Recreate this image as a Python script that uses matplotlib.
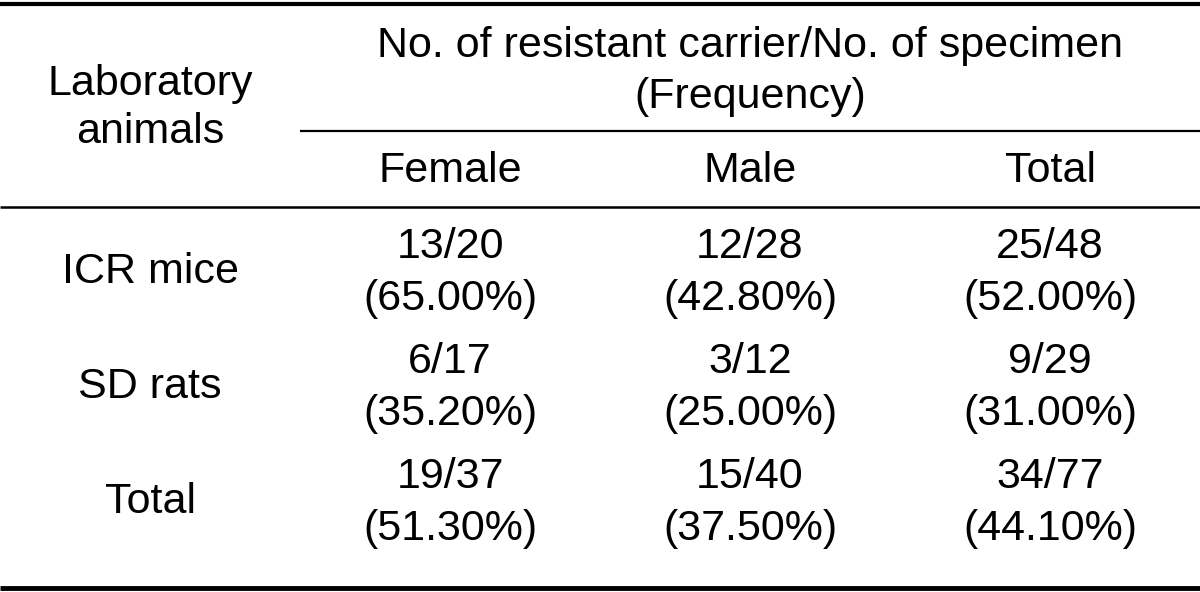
import matplotlib
matplotlib.use("Agg")
import matplotlib.pyplot as plt

plt.rcParams["font.family"] = ["Liberation Sans", "DejaVu Sans"]

animals = ["ICR mice", "SD rats", "Total"]
groups = ["Female", "Male", "Total"]
carriers = [[13, 12, 25], [6, 3, 9], [19, 15, 34]]
specimens = [[20, 28, 48], [17, 12, 29], [37, 40, 77]]
freqs = [["65.00%", "42.80%", "52.00%"],
         ["35.20%", "25.00%", "31.00%"],
         ["51.30%", "37.50%", "44.10%"]]

W, H = 1200, 592
fig = plt.figure(figsize=(12, 5.92), dpi=100)
ax = fig.add_axes([0, 0, 1, 1])
ax.set_xlim(0, W)
ax.set_ylim(H, 0)
ax.axis("off")

fs = 31
col_x = [150, 450, 750, 1050]
# baselines of first line per body row
row_base = [258, 373, 488]
gap = 52

def put(x, y, s):
    ax.text(x, y, s, ha="center", va="baseline", fontsize=fs)

# rules
ax.plot([0, W], [4, 4], color="black", lw=3.0, solid_capstyle="butt")
ax.plot([300, W], [131, 131], color="black", lw=1.6, solid_capstyle="butt")
ax.plot([0, W], [207, 207], color="black", lw=1.8, solid_capstyle="butt")
ax.plot([0, W], [588, 588], color="black", lw=3.5, solid_capstyle="butt")

# header
put(col_x[0], 95, "Laboratory")
put(col_x[0], 143, "animals")
put(750, 57, "No. of resistant carrier/No. of specimen")
put(750, 108, "(Frequency)")
for x, g in zip(col_x[1:], groups):
    put(x, 182, g)

# body
for i, name in enumerate(animals):
    y = row_base[i]
    put(col_x[0], y + 25, name)
    for j in range(3):
        put(col_x[j + 1], y, f"{carriers[i][j]}/{specimens[i][j]}")
        put(col_x[j + 1], y + gap, f"({freqs[i][j]})")

fig.savefig("out.png", dpi=100)
